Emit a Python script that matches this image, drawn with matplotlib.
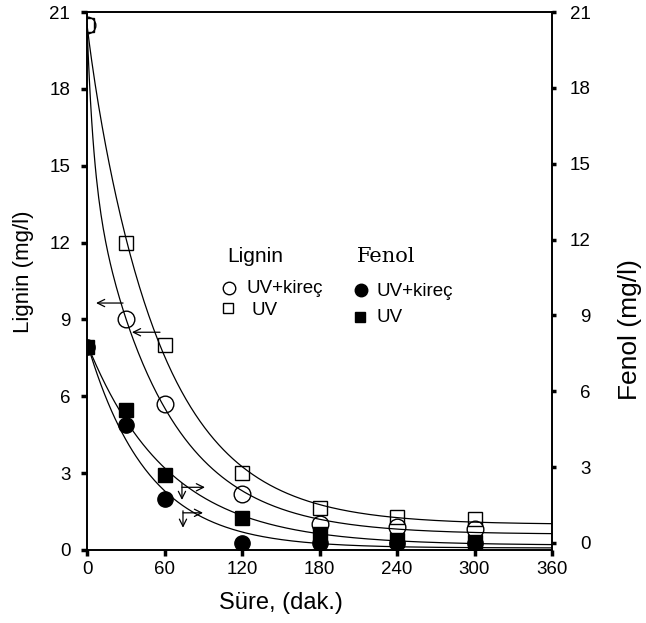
import numpy as np
import matplotlib
matplotlib.use("Agg")
import matplotlib.pyplot as plt

plt.rcParams['font.family'] = ['Liberation Sans', 'DejaVu Sans']

# Süre (dak.)
time = [0, 30, 60, 120, 180, 240, 300]

# Lignin (mg/l) - left axis
lignin_uv_kirec = [20.5, 9.0, 5.7, 2.2, 1.0, 0.9, 0.82]
lignin_uv = [20.5, 12.0, 8.0, 3.0, 1.64, 1.3, 1.2]

# Fenol (mg/l) - right axis
fenol_uv_kirec = [7.75, 4.65, 1.75, 0.0, 0.0, 0.0, 0.0]
fenol_uv = [7.75, 5.25, 2.7, 1.0, 0.35, 0.1, 0.05]

xticks = [0, 60, 120, 180, 240, 300, 360]
yticks = [0, 3, 6, 9, 12, 15, 18, 21]

# arrows: lignin ones point left, fenol ones point right and down
lignin_arrows = [(27.9, 9.64, 7.0), (56.5, 8.5, 34.8)]
fenol_arrows = [(73.5, 2.2, 91.3, 2.35, 1.7), (74.3, 1.19, 89.8, 1.27, 0.6)]


def decay_fit(t, y):
    # y = c + a1*exp(-k1 t) + a2*exp(-k2 t), like the fitted curves of the original
    t = np.asarray(t, float)
    y = np.asarray(y, float)
    ks = np.geomspace(0.003, 0.2, 60)
    best = None
    for i, k1 in enumerate(ks):
        for k2 in ks[i + 1:]:
            A = np.column_stack([np.exp(-k1 * t), np.exp(-k2 * t), np.ones_like(t)])
            coef = np.linalg.lstsq(A, y, rcond=None)[0]
            if coef[0] < 0 or coef[1] < 0:
                continue
            err = np.sum((A @ coef - y) ** 2)
            if best is None or err < best[0]:
                best = (err, k1, k2, coef)
    _, k1, k2, (a1, a2, c) = best
    return lambda tt: c + a1 * np.exp(-k1 * tt) + a2 * np.exp(-k2 * tt)


fig = plt.figure(figsize=(6.46, 6.23), dpi=100)
ax = fig.add_axes([0.1347, 0.1172, 0.7198, 0.8635])
ax2 = ax.twinx()

tt = np.linspace(0, 360, 400)
lw = 0.9

ax.plot(tt, decay_fit(time, lignin_uv)(tt), color='black', lw=lw)
ax.plot(time, lignin_uv, 's', ms=9.5, mfc='none', mec='black', mew=1.0)
ax.plot(tt, decay_fit(time, lignin_uv_kirec)(tt), color='black', lw=lw)
ax.plot(time, lignin_uv_kirec, 'o', ms=12, mfc='none', mec='black', mew=1.0)

ax2.plot(tt, decay_fit(time, fenol_uv)(tt), color='black', lw=lw)
ax2.plot(time, fenol_uv, 's', ms=9.5, color='black')
ax2.plot(tt, decay_fit(time, fenol_uv_kirec)(tt), color='black', lw=lw)
ax2.plot(time, fenol_uv_kirec, 'o', ms=11, color='black')

aprops = dict(arrowstyle='->', lw=0.9, color='black', mutation_scale=13,
              shrinkA=0, shrinkB=0)
for x0, y0, x1 in lignin_arrows:
    ax.annotate('', xy=(x1, y0), xytext=(x0, y0), arrowprops=aprops)
for x0, y0, x1, yv0, yv1 in fenol_arrows:
    ax2.annotate('', xy=(x1, y0), xytext=(x0, y0), arrowprops=aprops)
    ax2.annotate('', xy=(x0, yv1), xytext=(x0, yv0), arrowprops=aprops)

ax.set_xlim(0, 360)
ax.set_ylim(0, 21)
ax2.set_ylim(-0.28, 21)
ax.set_xticks(xticks)
ax.set_xticklabels([str(v) for v in xticks])
ax.set_yticks(yticks)
ax2.set_yticks(yticks)

for a in (ax, ax2):
    for s in a.spines.values():
        s.set_linewidth(1.2)
ax.tick_params(axis='both', direction='out', length=4, width=2.5, labelsize=13.5)
ax.tick_params(axis='y', pad=8)
ax.tick_params(axis='x', pad=4)
ax2.tick_params(axis='y', direction='out', length=3, width=2.5, labelsize=13.5, pad=25)
for lab in ax2.get_yticklabels():
    lab.set_horizontalalignment('right')

fig.text(0.036, 1 - 272 / 623, 'Lignin (mg/l)', rotation=90, fontsize=16,
         ha='center', va='center')
fig.text(0.975, 1 - 330 / 623, 'Fenol (mg/l)', rotation=90, fontsize=19,
         ha='center', va='center')
fig.text(281 / 646, 1 - 603 / 623, 'Süre, (dak.)', fontsize=17,
         ha='center', va='center')


def px(x, y):
    return ((x - 87) / 465, (550 - y) / 538)


# legend built by hand
ax.text(*px(227, 256), 'Lignin', transform=ax.transAxes, fontsize=15, va='center')
ax.text(*px(357, 256), 'Fenol', transform=ax.transAxes, fontsize=15,
        family='DejaVu Serif', va='center')
ax.plot(*px(229, 288), 'o', ms=9, mfc='none', mec='black', mew=1.0,
        transform=ax.transAxes, clip_on=False)
ax.text(*px(246, 288), 'UV+kireç', transform=ax.transAxes, fontsize=13.5, va='center')
ax.plot(*px(228, 308), 's', ms=7, mfc='none', mec='black', mew=1.0,
        transform=ax.transAxes, clip_on=False)
ax.text(*px(251, 310), 'UV', transform=ax.transAxes, fontsize=13.5, va='center')
ax.plot(*px(361, 290), 'o', ms=9, color='black', transform=ax.transAxes, clip_on=False)
ax.text(*px(376, 291), 'UV+kireç', transform=ax.transAxes, fontsize=13.5, va='center')
ax.plot(*px(360, 317), 's', ms=7, color='black', transform=ax.transAxes, clip_on=False)
ax.text(*px(376, 317), 'UV', transform=ax.transAxes, fontsize=13.5, va='center')

fig.savefig('out.png', dpi=100)
